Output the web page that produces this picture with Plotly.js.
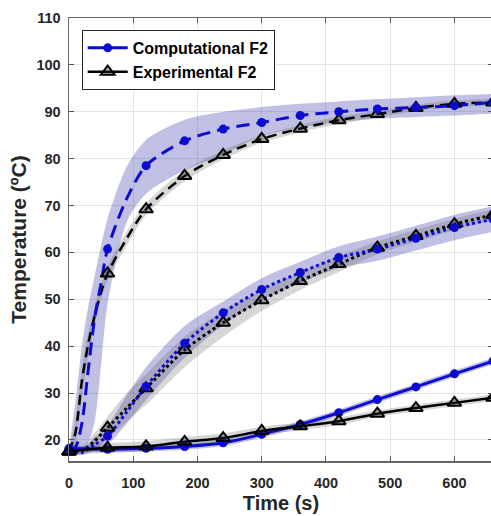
<!DOCTYPE html>
<html>
<head>
<meta charset="utf-8">
<script src="https://cdn.plot.ly/plotly-3.0.1.min.js"></script>
<style>
html,body{margin:0;padding:0;overflow:hidden;background:#fff;}
#chart{width:494px;height:516px;}
</style>
</head>
<body>
<div id="chart"></div>
<script>
// ---- data ----
const tTop = [0,10,20,30,40,50,60,90,120,180,240,300,360,420,480,540,600,660];
const compTop   = [18.0,18.5,23.5,35.0,46.0,53.5,60.7,71.5,78.5,83.8,86.3,87.7,89.2,90.0,90.6,90.9,91.3,92.0];
const compTopHi = [18.5,28.0,40.0,48.5,55.0,61.5,67.2,78.3,84.0,88.3,90.0,91.0,91.7,92.2,92.7,93.1,93.5,93.8];
const compTopLo = [17.5,17.5,17.8,19.5,24.0,36.0,49.0,66.5,72.5,77.5,80.9,84.8,86.6,87.8,88.5,88.9,89.2,89.6];
const expTop    = [17.5,21.5,32.5,40.5,46.5,51.5,55.5,63.0,69.2,76.3,80.8,84.2,86.4,88.2,89.5,90.8,91.7,92.0];
const expTopHi  = [18.3,24.0,35.0,43.0,48.5,53.0,57.0,64.5,70.5,77.5,81.8,85.0,87.2,89.0,90.2,91.5,92.4,92.8];
const expTopLo  = [17.0,19.5,29.0,38.0,44.5,50.0,54.0,61.5,68.0,75.2,79.8,83.4,85.6,87.4,88.8,90.1,91.0,91.3];

const tMid = [0,20,40,60,90,120,180,240,300,360,420,480,540,600,660];
const compMid   = [17.8,17.3,19.0,20.8,26.0,31.4,40.6,47.1,52.1,55.7,58.9,60.7,63.0,65.3,67.1];
const compMidHi = [18.3,18.2,20.5,23.0,29.5,35.5,44.3,49.5,54.5,58.0,61.3,63.4,65.7,68.0,69.8];
const compMidLo = [17.3,16.8,17.8,19.0,23.5,28.5,37.5,44.5,49.8,53.5,56.6,58.2,60.4,62.6,64.4];
const expMid    = [17.5,17.6,19.8,22.6,26.8,31.0,39.2,45.0,49.8,53.9,57.5,61.0,63.5,66.0,68.0];
const expMidHi  = [18.0,18.5,21.5,25.0,30.0,34.0,42.0,47.5,52.0,55.8,59.2,62.4,64.8,67.2,69.2];
const expMidLo  = [17.0,17.0,18.0,20.3,24.0,27.5,35.5,42.0,47.5,52.0,55.8,59.6,62.2,64.8,66.8];

const tBot = [0,60,120,180,240,300,360,420,480,540,600,660];
const compBot   = [18.2,18.0,18.2,18.6,19.4,21.2,23.3,25.8,28.6,31.3,34.1,36.8];
const compBotHi = [18.8,18.7,18.9,19.3,20.1,21.9,24.0,26.5,29.3,32.0,34.8,37.5];
const compBotLo = [17.6,17.3,17.5,17.9,18.7,20.5,22.6,25.1,27.9,30.6,33.4,36.1];
const expBot    = [17.5,18.3,18.6,19.6,20.4,21.9,22.9,24.0,25.6,26.8,27.9,29.0];
const expBotHi  = [18.3,19.3,19.7,20.6,21.4,22.8,23.7,24.8,26.3,27.5,28.6,29.7];
const expBotLo  = [16.8,17.3,17.6,18.6,19.4,21.0,22.1,23.2,24.9,26.1,27.2,28.3];

const legendNames = ["Computational F2", "Experimental F2"];
const xTicks = [0,100,200,300,400,500,600];
const yTicks = [20,30,40,50,60,70,80,90,100,110];

// ---- styles ----
const BLUE = '#0c0cd0';
const BLACK = '#000000';
const LAV = 'rgba(60,60,170,0.32)';
const GRAY = 'rgba(90,90,90,0.25)';

function band(t, hi, lo, color){
  return [
    {x:t, y:hi, mode:'lines', line:{width:0, shape:'spline', smoothing:0.8}, showlegend:false, hoverinfo:'skip'},
    {x:t, y:lo, mode:'lines', line:{width:0, shape:'spline', smoothing:0.8}, fill:'tonexty', fillcolor:color, showlegend:false, hoverinfo:'skip'}
  ];
}
function pick(t, v){ // marker points every 60 s
  const xs=[], ys=[];
  t.forEach((ti,i)=>{ if(ti%60===0){ xs.push(ti); ys.push(v[i]); } });
  return {xs, ys};
}
const circ = {symbol:'circle', size:9, color:BLUE};
const tri = {symbol:'triangle-up', size:12, color:'rgba(40,40,40,0.3)', line:{color:BLACK, width:2}};

function curve(t, v, color, width, dash){
  return {x:t, y:v, mode:'lines', line:{color, width, dash, shape:'spline', smoothing:0.8}, showlegend:false, hoverinfo:'skip'};
}
function marks(t, v, marker){
  const p = pick(t, v);
  return {x:p.xs, y:p.ys, mode:'markers', marker, showlegend:false, cliponaxis:false};
}

const traces = [
  ...band(tTop, compTopHi, compTopLo, LAV),
  ...band(tMid, compMidHi, compMidLo, LAV),
  ...band(tBot, compBotHi, compBotLo, LAV),
  ...band(tTop, expTopHi, expTopLo, GRAY),
  ...band(tMid, expMidHi, expMidLo, GRAY),
  ...band(tBot, expBotHi, expBotLo, GRAY),
  curve(tTop, expTop, BLACK, 2.5, '10px,6px'),
  curve(tTop, compTop, BLUE, 3, '13px,7px'),
  curve(tMid, expMid, BLACK, 3, '3px,3px'),
  curve(tMid, compMid, BLUE, 3, '3px,3px'),
  marks(tTop, expTop, tri),
  marks(tTop, compTop, circ),
  marks(tMid, expMid, tri),
  marks(tMid, compMid, circ),
  {x:tBot, y:compBot, name:legendNames[0], mode:'lines+markers', line:{color:BLUE, width:3, shape:'spline'}, marker:circ, cliponaxis:false},
  {x:tBot, y:expBot, name:legendNames[1], mode:'lines+markers', line:{color:BLACK, width:2.5, shape:'spline'}, marker:tri, cliponaxis:false}
];
const FONT = 'Liberation Sans, Arial, Helvetica, sans-serif';
const layout = {
  width:494, height:516,
  margin:{l:69, r:1, t:18, b:55},
  paper_bgcolor:'#fff', plot_bgcolor:'#fff',
  font:{family:FONT, color:'#262626'},
  showlegend:true,
  legend:{x:0.03, y:0.973, xanchor:'left', yanchor:'top', bgcolor:'#fff', bordercolor:'#262626', borderwidth:1,
          traceorder:'normal',
          font:{family:FONT, size:16, weight:'bold', color:'#000'}, tracegroupgap:0, itemwidth:40},
  xaxis:{range:[0,660], tickvals:xTicks, ticks:'inside', ticklen:5, tickcolor:'#555', showline:true, mirror:'ticks', linecolor:'#666', linewidth:1.5,
         showgrid:true, gridcolor:'#e4e4e4', gridwidth:1, zeroline:false,
         tickfont:{family:FONT, size:14.5, weight:'bold', color:'#262626'}, ticklabelstandoff:8,
         title:{text:'Time (s)', font:{family:FONT, size:20, weight:'bold', color:'#262626'}, standoff:6}},
  yaxis:{range:[15.5,110], tickvals:yTicks, ticks:'inside', ticklen:5, tickcolor:'#555', showline:true, mirror:'ticks', linecolor:'#666', linewidth:1.5,
         showgrid:true, gridcolor:'#e4e4e4', gridwidth:1, zeroline:false,
         tickfont:{family:FONT, size:14.5, weight:'bold', color:'#262626'}, ticklabelstandoff:4,
         title:{text:'Temperature (ºC)', font:{family:FONT, size:21, weight:'bold', color:'#262626'}, standoff:4}}
};
Plotly.newPlot('chart', traces, layout, {displayModeBar:false, staticPlot:true});
</script>
</body>
</html>
